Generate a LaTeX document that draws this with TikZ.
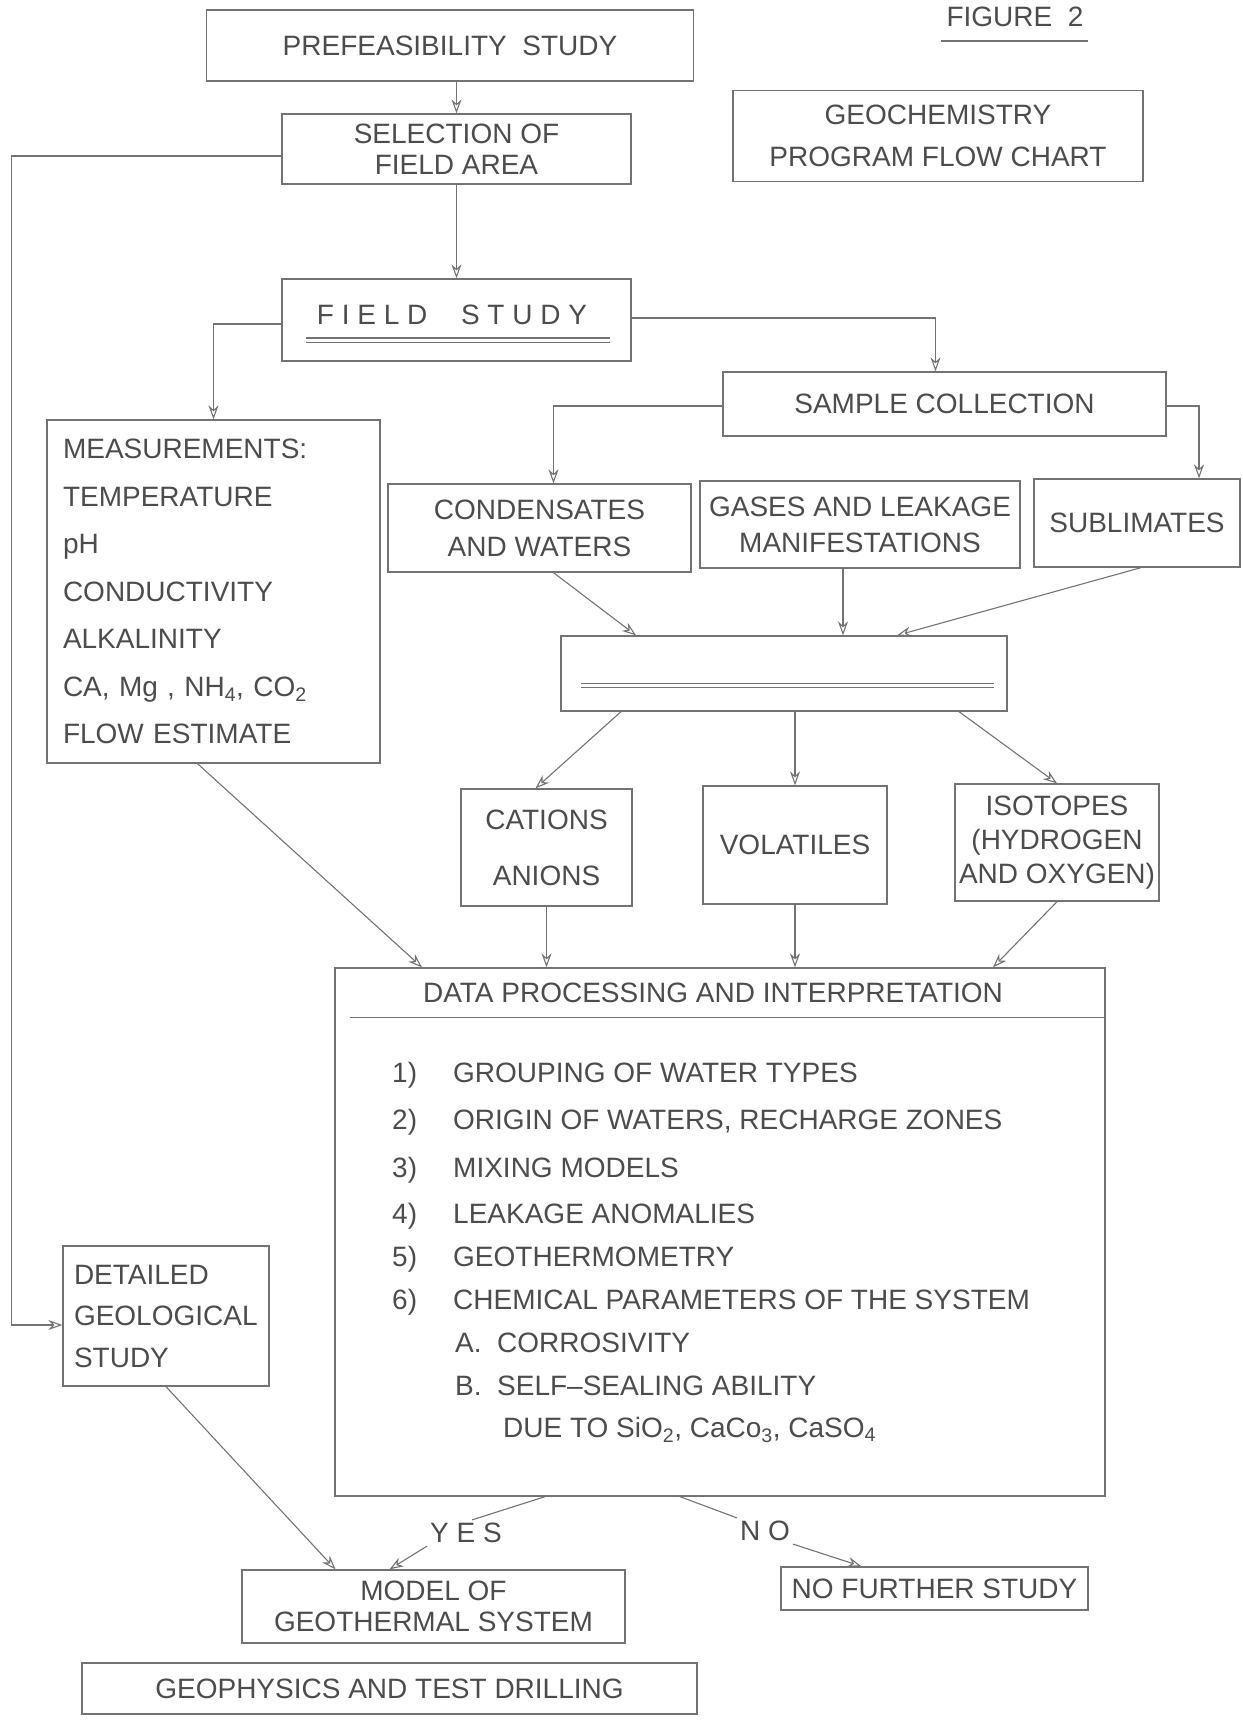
\documentclass[tikz,border=0pt]{standalone}
\usepackage{fontspec}
\setmainfont{Liberation Sans}
\usetikzlibrary{arrows.meta}
\definecolor{ink}{gray}{0.30}
\definecolor{linegray}{gray}{0.45}
\tikzset{
  box/.style={draw=linegray, line width=1.3pt, inner sep=0pt, align=center, text=ink},
  gap/.style={font=\fontsize{28}{#1}\selectfont},
  arr/.style={draw=linegray, line width=1.1pt, -{Stealth[open,length=14pt,width=10pt]}},
  wire/.style={draw=linegray, line width=1.1pt},
  listline/.style={anchor=west, inner sep=0pt, text height=20pt, text depth=0pt, text=ink},
}

\begin{document}
\begin{tikzpicture}[x=1pt, y=-1pt, every node/.style={font=\fontsize{28}{34}\selectfont}]
    \useasboundingbox (0,0) rectangle (1242,1720);

    % Title
    \node[text=ink] (fig) at (1015,17) {FIGURE\ \ 2};
    \draw[wire] (941,41) -- (1088,41);
    \node[box, gap=42, minimum width=410pt, minimum height=91pt] (geoch) at (938,136) {GEOCHEMISTRY\\PROGRAM FLOW CHART};

    % Upper chain
    \node[box, minimum width=487pt, minimum height=71pt] (pref) at (450,45.5) {PREFEASIBILITY\ \ STUDY};
    \node[box, gap=31, minimum width=349pt, minimum height=70pt] (sel) at (456.5,149) {SELECTION OF\\FIELD AREA};
    \node[box, minimum width=349pt, minimum height=82pt] (field) at (456.5,320) {};
    \node[text=ink] (fieldtxt) at (452,315) {F I E L D\hspace{1.2em}S T U D Y};
    \draw[wire, double=white, double distance=3pt] ([xshift=25pt,yshift=-20pt]field.west) -- ([xshift=-22pt,yshift=-20pt]field.east);
    \node[box, minimum width=443pt, minimum height=64pt] (samp) at (944.5,404) {SAMPLE COLLECTION};

    % Field measurements
    \node[box, gap=47.5, align=left, text width=301pt, minimum width=333pt, minimum height=343pt, inner xsep=16pt] (meas) at (213.5,591.5)
        {MEASUREMENTS:\\TEMPERATURE\\pH\\CONDUCTIVITY\\ALKALINITY\\CA, Mg , NH\textsubscript{4}, CO\textsubscript{2}\\FLOW ESTIMATE};

    % Samples
    \node[box, gap=37, minimum width=303pt, minimum height=88pt] (cond) at (539.5,528) {CONDENSATES\\AND WATERS};
    \node[box, gap=36, minimum width=320pt, minimum height=87pt] (gas) at (860,524.5) {GASES AND LEAKAGE\\MANIFESTATIONS};
    \node[box, minimum width=206pt, minimum height=88pt] (subl) at (1137,523) {SUBLIMATES};
    \node[box, minimum width=446pt, minimum height=75pt] (mid) at (784,673.5) {};
    \draw[wire, double=white, double distance=3pt] ([xshift=21pt,yshift=-12pt]mid.west) -- ([xshift=-14pt,yshift=-12pt]mid.east);

    % Analyses
    \node[box, gap=56, minimum width=171pt, minimum height=117pt] (cat) at (546.5,847.5) {CATIONS\\ANIONS};
    \node[box, minimum width=184pt, minimum height=118pt] (vol) at (795,845) {VOLATILES};
    \node[box, gap=34, minimum width=204pt, minimum height=117pt] (iso) at (1057,842.5) {ISOTOPES\\(HYDROGEN\\AND OXYGEN)};

    % Data processing
    \node[box, minimum width=770pt, minimum height=528pt] (data) at (720,1232) {};
    \node[text=ink] (dtitle) at (713,993) {DATA PROCESSING AND INTERPRETATION};
    \draw[wire] ([xshift=16pt,yshift=-50pt]data.north west) -- ([xshift=-2pt,yshift=-50pt]data.north east);
    \foreach \yy/\num/\entry [count=\k] in {1072/1)/GROUPING OF WATER TYPES,
        1119/2)/{ORIGIN OF WATERS, RECHARGE ZONES}, 1167/3)/MIXING MODELS,
        1213/4)/LEAKAGE ANOMALIES, 1256/5)/GEOTHERMOMETRY,
        1299/6)/CHEMICAL PARAMETERS OF THE SYSTEM}
    {
        \node[listline] (num\k) at (392,\yy) {\num};
        \node[listline] (itm\k) at (453,\yy) {\entry};
    }
    \node[listline] (suba) at (455,1342) {A.\ \ CORROSIVITY};
    \node[listline] (subb) at (455,1385) {B.\ \ SELF--SEALING ABILITY};
    \node[listline] (subc) at (503,1427) {DUE TO SiO\textsubscript{2}, CaCo\textsubscript{3}, CaSO\textsubscript{4}};

    % Lower part
    \node[box, gap=41.5, align=left, text width=184pt, minimum width=206pt, minimum height=140pt, inner xsep=11pt] (geo) at (166,1316) {DETAILED\\GEOLOGICAL\\STUDY};
    \node[text=ink, inner sep=3pt] (yes) at (466,1533) {Y E S};
    \node[text=ink, inner sep=3pt] (no) at (765,1531) {N O};
    \node[box, gap=31, minimum width=383pt, minimum height=73pt] (model) at (433.5,1606.5) {MODEL OF\\GEOTHERMAL SYSTEM};
    \node[box, minimum width=307pt, minimum height=43pt] (nofur) at (934.5,1588.5) {NO FURTHER STUDY};
    \node[box, minimum width=615pt, minimum height=51pt] (geoph) at (389.5,1688.5) {GEOPHYSICS AND TEST DRILLING};

    % Connectors
    \draw[arr] (sel.north |- pref.south) -- (sel.north);
    \draw[arr] (sel.south) -- (field.north);
    \draw[arr] ([yshift=-7pt]sel.west) -- ++(-270,0) |- ([yshift=-9pt]geo.west);
    \draw[arr] ([yshift=-4pt]field.west) -| (meas.north);
    \draw[arr] ([yshift=2pt]field.east) -| ([xshift=-9pt]samp.north);
    \draw[arr] ([yshift=-2pt]samp.west) -| ([xshift=14pt]cond.north);
    \draw[arr] ([yshift=-2pt]samp.east) -| ([xshift=62pt]subl.north);
    \draw[arr] ([xshift=14pt]cond.south) -- ([xshift=-148pt]mid.north);
    \draw[arr] ([xshift=-17pt]gas.south) -- ([xshift=59pt]mid.north);
    \draw[arr] ([xshift=4pt]subl.south) -- ([xshift=113pt]mid.north);
    \draw[arr] ([xshift=-163pt]mid.south) -- ([xshift=-11pt]cat.north);
    \draw[arr] (vol.north |- mid.south) -- (vol.north);
    \draw[arr] ([xshift=175pt]mid.south) -- (iso.north);
    \draw[arr] (cat.south) -- (cat.south |- data.north);
    \draw[arr] (vol.south) -- (vol.south |- data.north);
    \draw[arr] (iso.south) -- ([xshift=273pt]data.north);
    \draw[arr] ([xshift=-16pt]meas.south) -- ([xshift=-298pt]data.north);
    \draw[arr] (geo.south) -- ([xshift=-98pt]model.north);
    \draw[wire] ([xshift=-175pt]data.south) -- ([xshift=6pt]yes.north);
    \draw[arr] (yes.south west) -- ([xshift=-44pt]model.north);
    \draw[wire] ([xshift=-40pt]data.south) -- (no.north west);
    \draw[arr] (no.south east) -- ([xshift=-73pt]nofur.north);
\end{tikzpicture}
\end{document}
